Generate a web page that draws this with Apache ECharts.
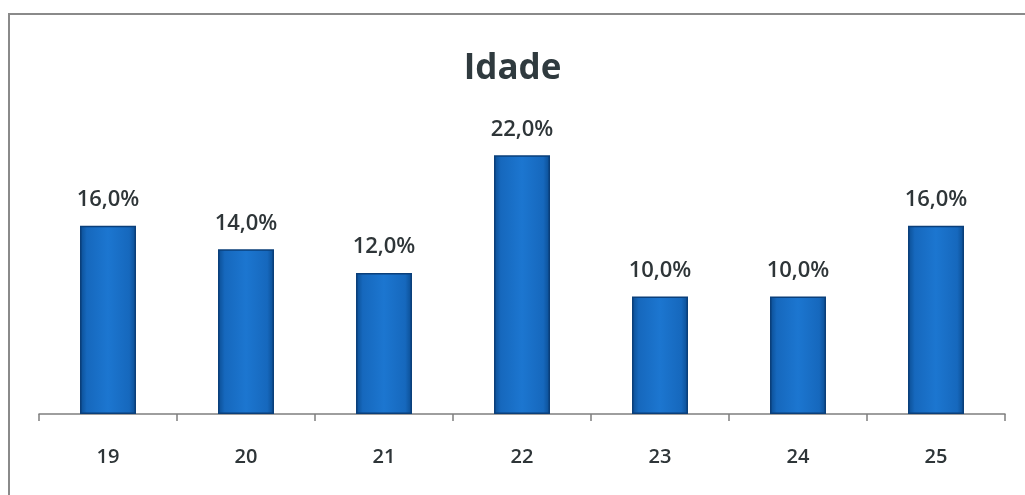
<!DOCTYPE html>
<html><head><meta charset="utf-8">
<script src="https://cdn.jsdelivr.net/npm/echarts@6/dist/echarts.min.js"></script>
<style>html,body{margin:0;padding:0;background:#fff}#c{width:1025px;height:495px}</style>
</head><body><div id="c"></div>
<script>
const titleText = 'Idade';
const categories = ['19','20','21','22','23','24','25'];
const values = [16.0, 14.0, 12.0, 22.0, 10.0, 10.0, 16.0];

const chart = echarts.init(document.getElementById('c'));
chart.setOption({
  animation: false,
  title: {text: titleText, left: 'center', top: 47, textStyle: {fontFamily: 'Open Sans', fontSize: 35, fontWeight: 'bold', color: '#2f3a3e'}},
  graphic: [{type: 'rect', shape: {x: 9, y: 14, width: 1030, height: 500}, style: {fill: 'none', stroke: '#8a8a8a', lineWidth: 2}, silent: true}],
  grid: {left: 39, right: 20, top: 120, bottom: 81},
  xAxis: {type: 'category', data: categories,
    axisLine: {lineStyle: {color: '#7f7f7f', width: 1.5}},
    axisTick: {show: true, length: 7, lineStyle: {color: '#7f7f7f', width: 1.5}},
    axisLabel: {fontFamily: 'Open Sans', fontSize: 20, fontWeight: 600, color: '#2e3538', margin: 33}},
  yAxis: {type: 'value', min: 0, max: 25, show: false, splitLine: {show: false}},
  series: [{type: 'bar', data: values, barWidth: 56,
    itemStyle: {
      color: {type: 'linear', x: 0, y: 0, x2: 1, y2: 0, colorStops: [
        {offset: 0, color: '#0b4d92'}, {offset: 0.12, color: '#1668bd'}, {offset: 0.5, color: '#1c76d0'},
        {offset: 0.88, color: '#1668bd'}, {offset: 1, color: '#0b4d92'}]},
      borderColor: '#0a3f7a', borderWidth: 1.5},
    label: {show: true, position: 'top', distance: 15, fontFamily: 'Open Sans', fontSize: 22, fontWeight: 600, color: '#2e3538',
      formatter: p => p.value.toFixed(1).replace('.', ',') + '%'}
  }]
});
</script></body></html>
